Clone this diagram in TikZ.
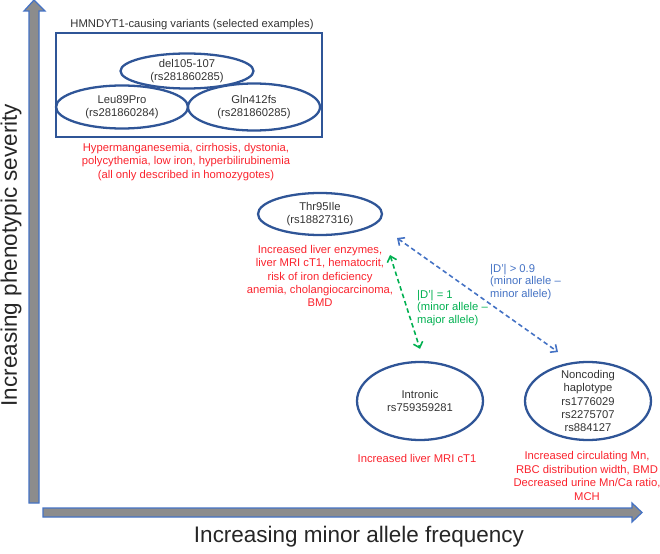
\documentclass[tikz,border=0pt]{standalone}
\usepackage{fontspec}
\setmainfont{Liberation Sans}
\usetikzlibrary{shapes.geometric,arrows.meta}
\definecolor{ovalblue}{RGB}{47,85,151}
\definecolor{fxred}{RGB}{250,35,45}
\definecolor{ldgreen}{RGB}{0,176,80}
\definecolor{ldblue}{RGB}{68,114,196}
\definecolor{axisgray}{RGB}{140,140,140}
\begin{document}
\begin{tikzpicture}[x=0.02cm,y=-0.02cm,
  variant/.style={ellipse,draw=ovalblue,line width=1.3pt,inner sep=0pt},
  vtext/.style={align=center,text=black!80,font=\fontsize{6.4}{7.6}\selectfont},
  effect/.style={align=center,text=fxred,font=\fontsize{6.4}{7.6}\selectfont},
  ldlabel/.style={align=left,anchor=west,font=\fontsize{6.4}{7.1}\selectfont},
  ldlink/.style={line width=0.9pt,dash pattern=on 2.6pt off 1.8pt,
    {Straight Barb[length=3pt,width=5.5pt]}-{Straight Barb[length=3pt,width=5.5pt]}},
  axislabel/.style={text=black!85,font=\fontsize{12.8}{15}\selectfont}]
\useasboundingbox (0,0) rectangle (660,554);
% axes
\filldraw[fill=axisgray,draw=ldblue,line width=0.7pt]
  (29,503) -- (29,11) -- (24,11) -- (34,0) -- (45,11) -- (39,11) -- (39,503) -- cycle;
\filldraw[fill=axisgray,draw=ldblue,line width=0.7pt]
  (43,508) -- (632,508) -- (632,503) -- (642,512.5) -- (632,522) -- (632,517) -- (43,517) -- cycle;
\node[axislabel,rotate=90] (ylab) at (11,255) {Increasing phenotypic severity};
\node[axislabel] (xlab) at (359,537) {Increasing minor allele frequency};
% HMNDYT1 box
\draw[ovalblue,line width=1.3pt] (56,33) rectangle (322,137);
\node[vtext] (boxtitle) at (192,25) {HMNDYT1-causing variants (selected examples)};
\node[variant,minimum width=2.66cm,minimum height=0.7cm] (del) at (187,71) {};
\node[vtext] at (del) {del105-107\\(rs281860285)};
\node[variant,minimum width=2.64cm,minimum height=0.86cm] (leu) at (122,107) {};
\node[vtext] at (leu) {Leu89Pro\\(rs281860284)};
\node[variant,minimum width=2.64cm,minimum height=0.94cm] (gln) at (254,107) {};
\node[vtext] at (gln) {Gln412fs\\(rs281860285)};
\node[effect] (hmfx) at (186,162) {Hypermanganesemia, cirrhosis, dystonia,\\polycythemia, low iron, hyperbilirubinemia\\(all only described in homozygotes)};
% Thr95Ile
\node[variant,minimum width=2.48cm,minimum height=0.84cm] (thr) at (320,214) {};
\node[vtext] at (thr) {Thr95Ile\\(rs18827316)};
\node[effect] (thrfx) at (320,276) {Increased liver enzymes,\\liver MRI cT1, hematocrit,\\risk of iron deficiency\\anemia, cholangiocarcinoma,\\BMD};
% common variants
\node[variant,minimum width=2.52cm,minimum height=1.56cm] (intr) at (420,401) {};
\node[vtext] at (intr) {Intronic\\rs759359281};
\node[effect] (intrfx) at (417,458) {Increased liver MRI cT1};
\node[variant,minimum width=2.52cm,minimum height=1.56cm] (nonc) at (588,401) {};
\node[vtext] at (nonc) {Noncoding\\haplotype\\rs1776029\\rs2275707\\rs884127};
\node[effect] (noncfx) at (587,476) {Increased circulating Mn,\\RBC distribution width, BMD\\Decreased urine Mn/Ca ratio,\\MCH};
% LD links
\coordinate (gtop) at (390,255);
\coordinate (btop) at (397,238);
\coordinate (bbot) at (558,352);
\draw[ldlink,ldgreen] (gtop) -- ([yshift=0.24cm]intr.north);
\draw[ldlink,ldblue] (btop) -- (bbot);
\node[ldlabel,text=ldgreen] (glab) at (411,308) {|D'| = 1\\(minor allele --\\major allele)};
\node[ldlabel,text=ldblue] (blab) at (484,282) {|D'| > 0.9\\(minor allele --\\minor allele)};
\end{tikzpicture}
\end{document}
